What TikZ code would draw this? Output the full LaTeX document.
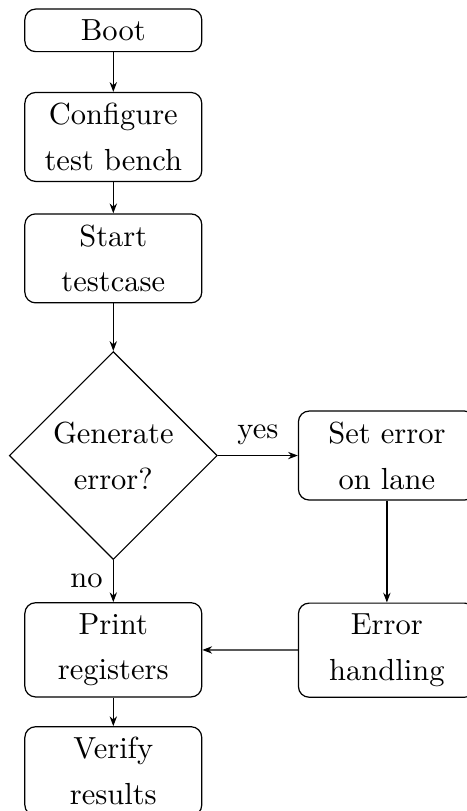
\documentclass[tikz,border=0pt]{standalone}
\usepackage{tikz}
\usetikzlibrary{arrows.meta,positioning,shapes.geometric}

\tikzset{
  block/.style={draw,rectangle,rounded corners=3.5pt,text width=51pt,align=center,inner sep=3.5pt},
  decision/.style={draw,diamond,aspect=1,text width=40pt,align=center,inner sep=0pt,minimum size=68.2pt}
}

\begin{document}
\begin{tikzpicture}[>={Stealth[length=3.2pt,width=2.4pt]},font=\fontsize{10}{15}\selectfont]
        \useasboundingbox (-37.15pt,9.95pt) rectangle (115.65pt,-255.95pt);
        \node[block] (boot) {Boot};
        \node[block,below=13pt of boot] (config) {Configure\\test bench};
        \node[block,below=10.25pt of config] (start) {Start\\testcase};
        \node[decision,below=15.57pt of start] (decide) {Generate\\error?};
        \node[block,right=26.2pt of decide] (seterr) {Set error\\on lane};
        \node[block,below=13.75pt of decide] (print) {Print\\registers};
        \node[block,below=33.4pt of seterr] (handle) {Error\\handling};
        \node[block,below=9.37pt of print] (verify) {Verify\\results};
        \draw[->] (boot)--(config);
        \draw[->] (config)--(start);
        \draw[->] (start)--(decide);
        \draw[->] (decide)--node[above]{yes}(seterr);
        \draw[->] (decide)--node[left]{no}(print);
        \draw[->] (seterr)--(handle);
        \draw[->] (handle)--(print);
        \draw[->] (print)--(verify);
      \end{tikzpicture}
\end{document}
